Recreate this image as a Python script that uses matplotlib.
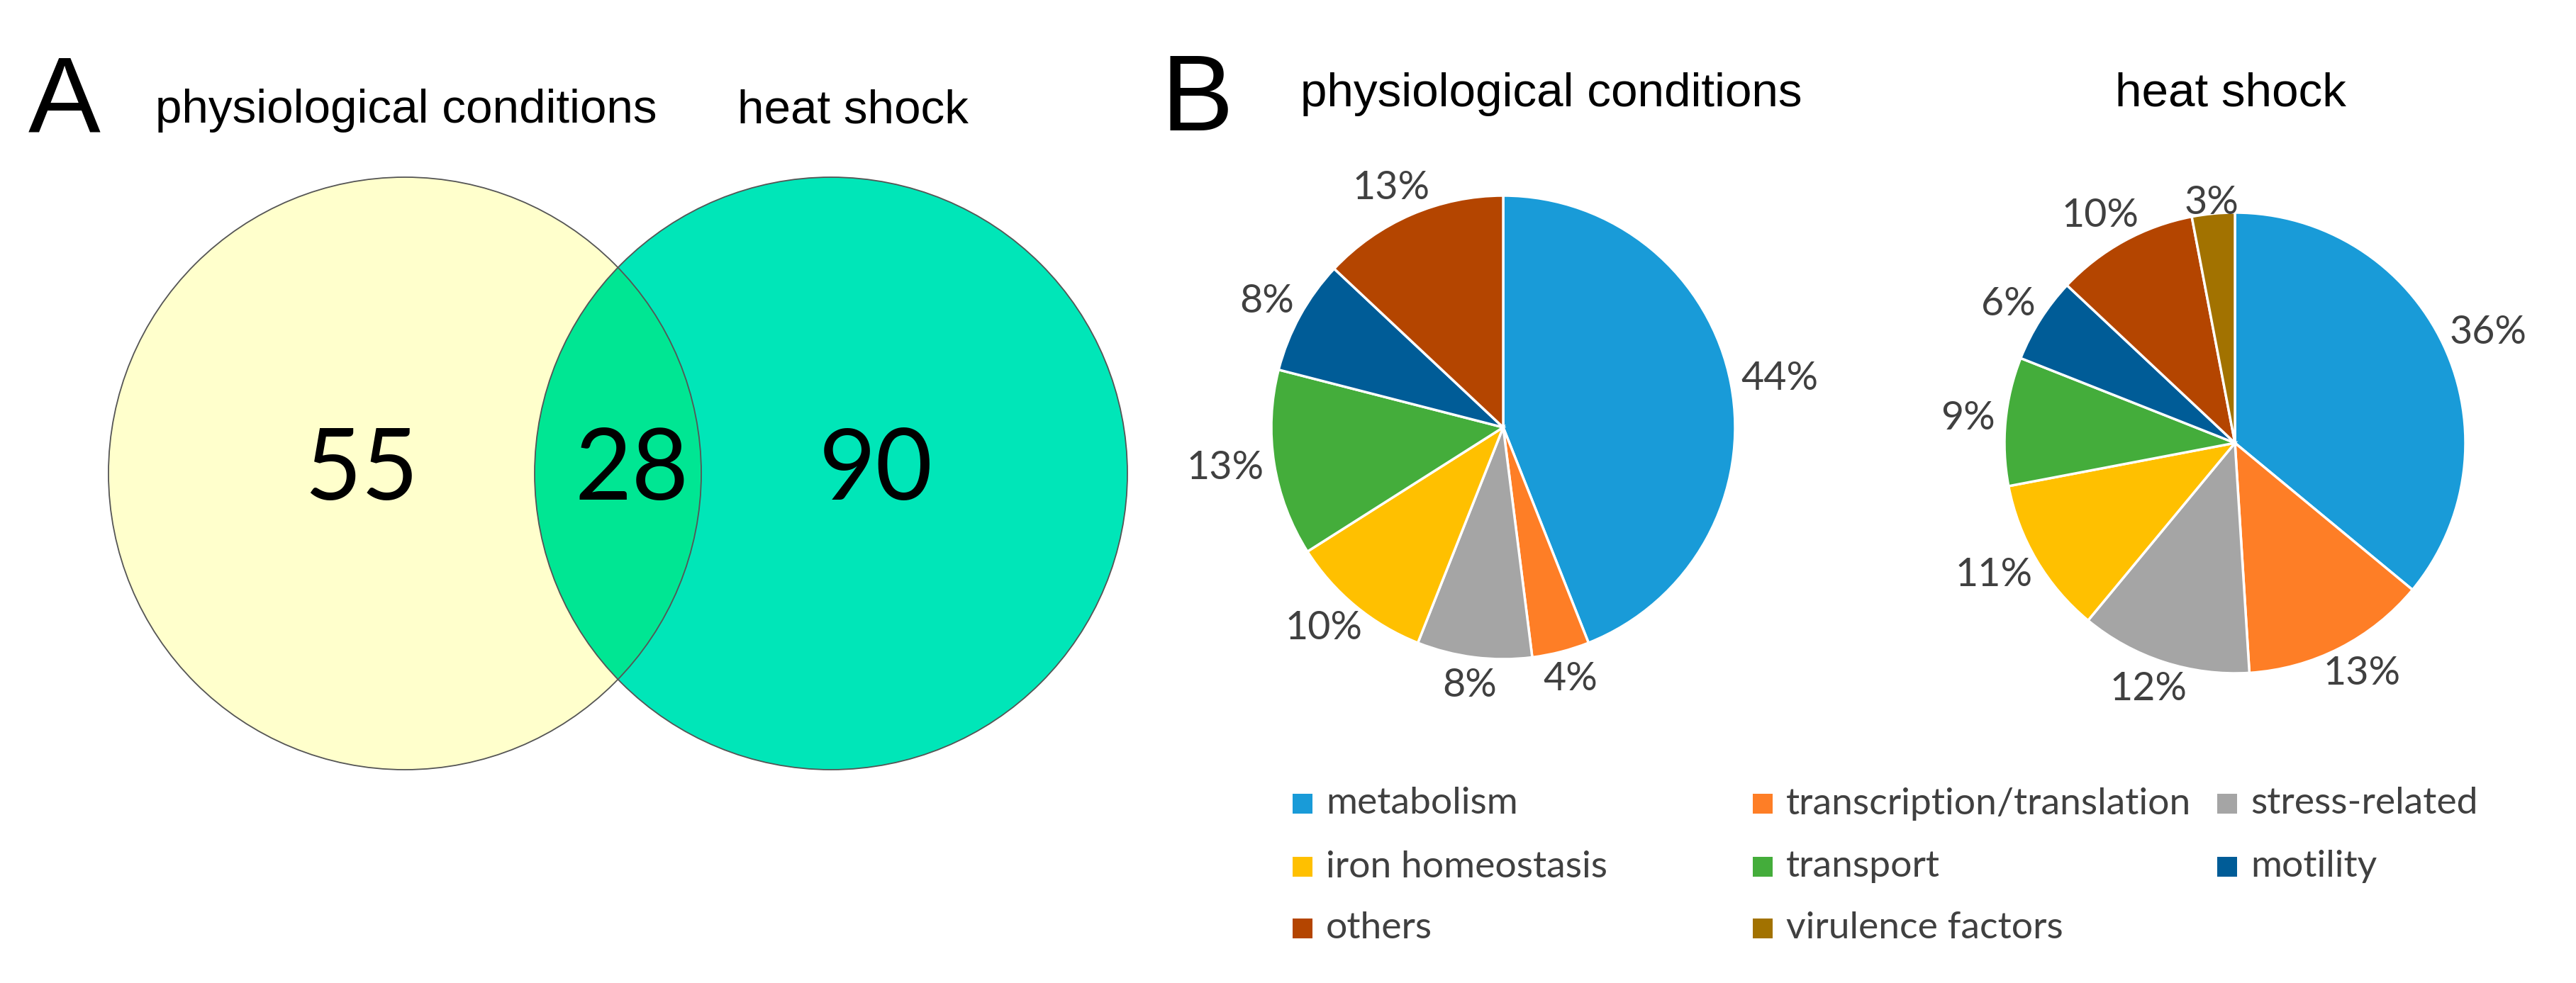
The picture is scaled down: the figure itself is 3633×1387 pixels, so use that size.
import matplotlib
matplotlib.use("Agg")
import matplotlib.pyplot as plt
from matplotlib.patches import Circle, Rectangle
import numpy as np

W, H = 3633, 1387

# data
categories = ['metabolism', 'transcription/translation', 'stress-related',
              'iron homeostasis', 'transport', 'motility', 'others',
              'virulence factors']
physio_pct = [44, 4, 8, 10, 13, 8, 13, 0]
heat_pct = [36, 13, 12, 11, 9, 6, 10, 3]
colors = ['#199BD8', '#FE7E26', '#A5A5A5', '#FFC000', '#44AD3B',
          '#005C97', '#B44500', '#A27200']

venn_sets = ['physiological conditions', 'heat shock']
venn_counts = [55, 28, 90]  # only physiological, both, only heat shock

fig = plt.figure(figsize=(W / 100, H / 100), dpi=100)
ax = fig.add_axes([0, 0, 1, 1])


def Y(y):
    # image rows (from top) -> data y
    return H - y


# ---- panel A : Venn ----
r_venn = 418
c_left = (571, Y(668))
c_right = (1172, Y(668))
left = Circle(c_left, r_venn, facecolor='#FFFFCC', edgecolor='none')
right = Circle(c_right, r_venn, facecolor='#00E6B8', edgecolor='none')
both = Circle(c_left, r_venn, facecolor='#00E693', edgecolor='none')
for p in (left, right, both):
    ax.add_patch(p)
both.set_clip_path(right)
for c in (c_left, c_right):
    ax.add_patch(Circle(c, r_venn, facecolor='none', edgecolor='#555555', lw=1.3))

num_pos = [(510, 665), (891, 665), (1235, 665)]
for n, (x, y) in zip(venn_counts, num_pos):
    ax.text(x, Y(y), str(n), ha='center', va='center', fontsize=100,
            family='Lato', color='black')

ax.text(40, Y(186), 'A', fontsize=110, family='Liberation Sans', ha='left', va='baseline')
ax.text(573, Y(173), venn_sets[0], fontsize=48.5, family='Liberation Sans', ha='center', va='baseline')
ax.text(1203, Y(173), venn_sets[1], fontsize=48.5, family='Liberation Sans', ha='center', va='baseline')

# ---- panel B : pies ----
ax.text(1637, Y(184), 'B', fontsize=110, family='Liberation Sans', ha='left', va='baseline')
ax.text(2188, Y(150), venn_sets[0], fontsize=48.5, family='Liberation Sans', ha='center', va='baseline')
ax.text(3146, Y(150), venn_sets[1], fontsize=48.5, family='Liberation Sans', ha='center', va='baseline')

renderer = fig.canvas.get_renderer()


def draw_pie(values, center, radius, pad=15):
    keep = [i for i, v in enumerate(values) if v > 0]
    vals = [values[i] for i in keep]
    wedges, _ = ax.pie(vals, colors=[colors[i] for i in keep], startangle=90,
                       counterclock=False, center=center, radius=radius,
                       wedgeprops=dict(edgecolor='white', linewidth=2.5))
    for w, v in zip(wedges, vals):
        th = np.deg2rad((w.theta1 + w.theta2) / 2)
        t = ax.text(0, 0, f'{v}%', ha='center', va='center', fontsize=40,
                    family='Lato', color='#404040')
        bb = t.get_window_extent(renderer)
        # the tiniest slice gets its label pulled in, like the original
        p = pad if v > 3 else -10
        cx = center[0] + (radius + p) * np.cos(th) + bb.width / 2 * np.cos(th)
        cy = center[1] + (radius + p) * np.sin(th) + bb.height / 2 * np.sin(th)
        t.set_position((cx, cy))


draw_pie(physio_pct, (2120, Y(603)), 327)
draw_pie(heat_pct, (3152, Y(625)), 325)

# legend (row-major, 3 columns)
col_x = [1823, 2472, 3127]
row_y = [1134, 1223, 1310]
sq = 28
for k, (name, col) in enumerate(zip(categories, colors)):
    x = col_x[k % 3]
    y = row_y[k // 3]
    ax.add_patch(Rectangle((x, Y(y) - sq / 2), sq, sq, facecolor=col, edgecolor='none'))
    ax.text(x + 47, Y(y), name, ha='left', va='center', fontsize=38.5,
            family='Lato', color='#404040')

ax.set_xlim(0, W)
ax.set_ylim(0, H)
ax.set_aspect('equal')
ax.axis('off')

fig.savefig('out.png', dpi=100)
